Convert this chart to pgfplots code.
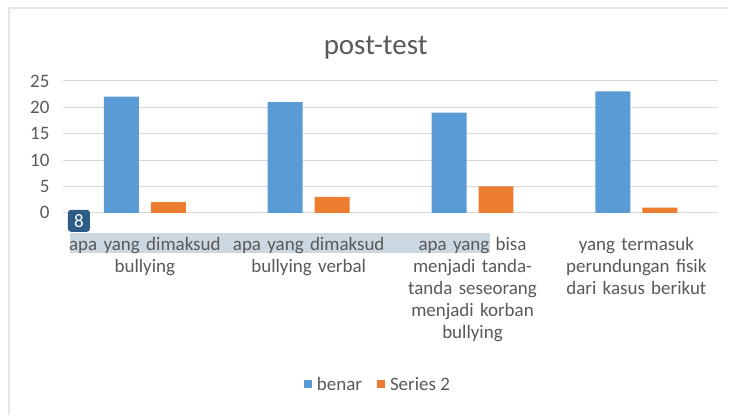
\documentclass[border=0pt]{standalone}
\usepackage{pgfplots}
\pgfplotsset{compat=1.18}
\usepackage{fontspec}
\setmainfont{Carlito}
\definecolor{cblue}{HTML}{5B9BD5}
\definecolor{corange}{HTML}{ED7D31}
\definecolor{ctext}{HTML}{595959}
\definecolor{cgrid}{HTML}{D9D9D9}
\definecolor{chl}{HTML}{CBD7E1}
\definecolor{cbadge}{HTML}{2D5C87}
\begin{document}
\begin{tikzpicture}[x=1pt,y=1pt]
\path[fill=white] (0,0) rectangle (729,415);
\draw[gray!20, line width=1.5pt] (9,0) -- (9,407) -- (729,407);
\fill[chl] (70,162) rectangle (490,182);
\node[text=ctext, font=\fontsize{29}{34}\selectfont] at (376,367) {post-test};
\begin{axis}[
  at={(63pt,202pt)}, anchor=south west,
  scale only axis, width=656pt, height=132pt,
  xmin=-0.5, xmax=3.5, ymin=0, ymax=25,
  ytick={0,5,...,25},
  xtick={0,1,2,3},
  /pgf/number format/assume math mode=true,
  xticklabels={{apa yang dimaksud\\bullying},{apa yang dimaksud\\bullying verbal},{apa yang bisa\\menjadi tanda-\\tanda seseorang\\menjadi korban\\bullying},{yang termasuk\\perundungan fisik\\dari kasus berikut}},
  xticklabel style={align=center, text width=160pt, font=\fontsize{19}{22}\selectfont, text=ctext, yshift=-21pt},
  yticklabel style={font=\fontsize{19}{22}\selectfont, text=ctext, xshift=-10pt},
  ymajorgrids, grid style={cgrid, line width=1pt},
  axis line style={draw=none},
  major tick length=0pt,
  ybar, bar width=35pt, ybar=12pt,
  legend columns=2,
  legend style={at={(0.483,-1.303)}, anchor=center, draw=none, font=\fontsize{19}{22}\selectfont, text=ctext, nodes={inner xsep=5pt}, /tikz/every even column/.append style={column sep=10pt}},
  legend image code/.code={\fill[#1] (0pt,-3pt) rectangle (8pt,5pt);},
]
\addplot[fill=cblue, draw=none] coordinates {(0,22) (1,21) (2,19) (3,23)};
\addplot[fill=corange, draw=none] coordinates {(0,2) (1,3) (2,5) (3,1)};
\legend{benar, Series 2}
\end{axis}
\fill[cbadge, rounded corners=3pt] (68,183) rectangle (90,205);
\node[text=white, font=\fontsize{19}{22}\selectfont] at (79,194) {8};
\end{tikzpicture}
\end{document}
